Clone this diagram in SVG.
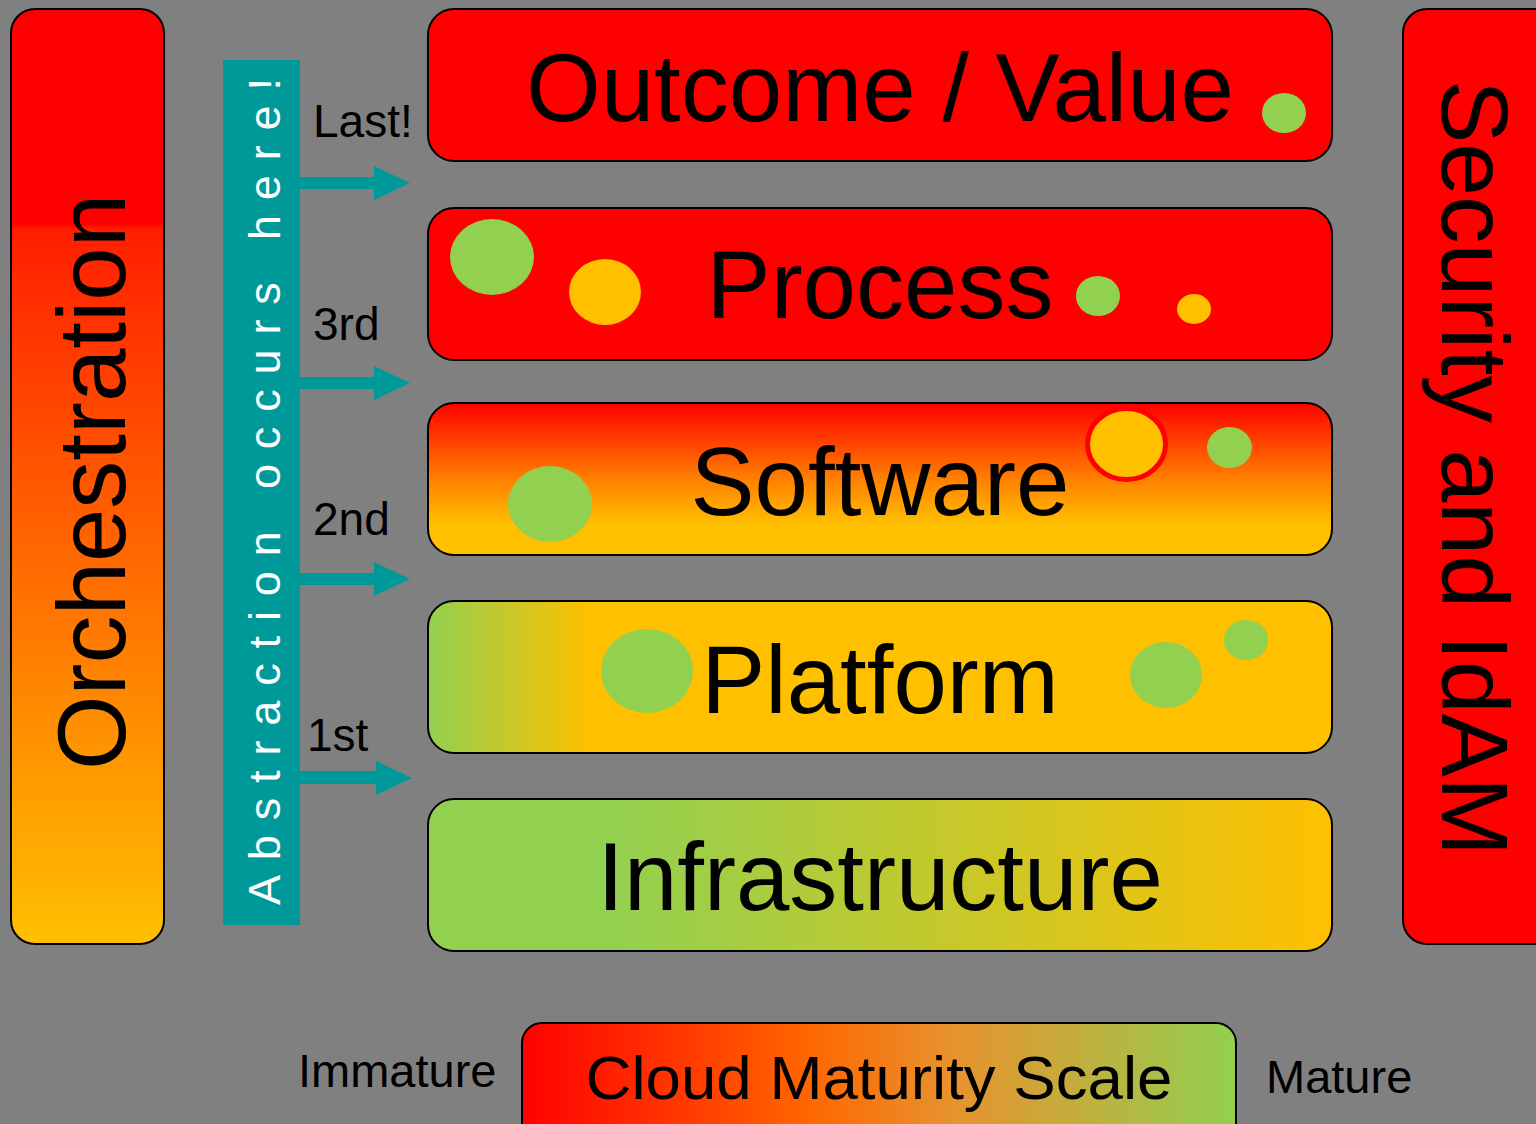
<svg xmlns="http://www.w3.org/2000/svg" width="1536" height="1124" viewBox="0 0 1536 1124">
<defs>
<linearGradient id="gOrch" x1="0" y1="0" x2="0" y2="1">
<stop offset="0" stop-color="#ff0000"/>
<stop offset="0.23" stop-color="#ff0000"/>
<stop offset="0.235" stop-color="#ff1e00"/>
<stop offset="1" stop-color="#ffc000"/>
</linearGradient>
<linearGradient id="gSoft" x1="0" y1="0" x2="0" y2="1">
<stop offset="0" stop-color="#ff0000"/>
<stop offset="0.5" stop-color="#ff8000"/>
<stop offset="0.8" stop-color="#ffc000"/>
<stop offset="1" stop-color="#ffc000"/>
</linearGradient>
<linearGradient id="gPlat" x1="0" y1="0" x2="1" y2="0">
<stop offset="0" stop-color="#92d050"/>
<stop offset="0.18" stop-color="#ffc000"/>
<stop offset="1" stop-color="#ffc000"/>
</linearGradient>
<linearGradient id="gInfra" x1="0" y1="0" x2="1" y2="0">
<stop offset="0" stop-color="#92d050"/>
<stop offset="0.2" stop-color="#92d050"/>
<stop offset="1" stop-color="#ffc000"/>
</linearGradient>
<linearGradient id="gScale" x1="0" y1="0" x2="1" y2="0">
<stop offset="0" stop-color="#ff0000"/>
<stop offset="0.4" stop-color="#ff6600"/>
<stop offset="0.6" stop-color="#e8922e"/>
<stop offset="1" stop-color="#92d050"/>
</linearGradient>
</defs>
<style>
.box{stroke:#000;stroke-width:2}
.big{font-family:"Liberation Sans",Arial,sans-serif;font-size:96px;fill:#000;text-anchor:middle}
.lbl{font-family:"Liberation Sans",Arial,sans-serif;font-size:46px;fill:#000}
.g{fill:#92d050}
.y{fill:#ffc000}
.arrow{fill:#009999}
</style>
<rect x="0" y="0" width="1536" height="1124" fill="#808080"/>

<g id="orchestration">
<rect class="box" x="11" y="9" width="153" height="935" rx="24" fill="url(#gOrch)"/>
<text class="big" transform="translate(125,482) rotate(-90)">Orchestration</text>
</g>

<g id="abstraction">
<rect x="223" y="60" width="77" height="865" fill="#009999"/>
<text transform="translate(280,905) rotate(-90)" font-family="Liberation Sans,Arial,sans-serif" font-size="45" fill="#fff" textLength="827" lengthAdjust="spacing">Abstraction occurs here!</text>
</g>

<g id="security">
<rect class="box" x="1403" y="9" width="160" height="935" rx="24" fill="#ff0000"/>
<text class="big" transform="translate(1442,468) rotate(90)" style="font-size:95px">Security and IdAM</text>
</g>

<g id="outcome">
<rect class="box" x="428" y="9" width="904" height="152" rx="26" fill="#ff0000"/>
<text class="big" x="880" y="121">Outcome / Value</text>
<ellipse class="g" cx="1284" cy="113" rx="22" ry="20"/>
</g>

<g id="process">
<rect class="box" x="428" y="208" width="904" height="152" rx="26" fill="#ff0000"/>
<text class="big" x="880" y="318">Process</text>
<ellipse class="g" cx="492" cy="257" rx="42" ry="38"/>
<ellipse class="y" cx="605" cy="292" rx="36" ry="33"/>
<ellipse class="g" cx="1098" cy="296" rx="22" ry="20"/>
<ellipse class="y" cx="1194" cy="309" rx="17" ry="15"/>
</g>

<g id="software">
<rect class="box" x="428" y="403" width="904" height="152" rx="26" fill="url(#gSoft)"/>
<text class="big" x="880" y="515">Software</text>
<ellipse class="g" cx="550" cy="504" rx="42" ry="38"/>
<ellipse class="y" cx="1126.5" cy="444" rx="39" ry="35.5" stroke="#ff0000" stroke-width="5"/>
<ellipse class="g" cx="1229.5" cy="447.5" rx="22.5" ry="20.5"/>
</g>

<g id="platform">
<rect class="box" x="428" y="601" width="904" height="152" rx="26" fill="url(#gPlat)"/>
<text class="big" x="880" y="713">Platform</text>
<ellipse class="g" cx="647" cy="671" rx="46" ry="42"/>
<ellipse class="g" cx="1166" cy="675" rx="36" ry="33"/>
<ellipse class="g" cx="1246" cy="640" rx="22" ry="20"/>
</g>

<g id="infrastructure">
<rect class="box" x="428" y="799" width="904" height="152" rx="26" fill="url(#gInfra)"/>
<text class="big" x="880" y="910">Infrastructure</text>
</g>

<g id="connectors">
<path class="arrow" d="M300,177 H374 V166 L410,183 L374,200 V189 H300 Z"/>
<path class="arrow" d="M300,377 H374 V366 L410,383 L374,400 V389 H300 Z"/>
<path class="arrow" d="M300,573 H374 V562 L410,579 L374,596 V585 H300 Z"/>
<path class="arrow" d="M300,771 H376 V761 L412,778 L376,795 V784 H300 Z"/>
</g>

<g id="labels">
<text class="lbl" x="313" y="137">Last!</text>
<text class="lbl" x="313" y="340">3rd</text>
<text class="lbl" x="313" y="535">2nd</text>
<text class="lbl" x="307" y="751">1st</text>
</g>

<g id="scale">
<rect class="box" x="522" y="1023" width="714" height="130" rx="20" fill="url(#gScale)"/>
<text class="big" x="879" y="1099" style="font-size:62px" textLength="587" lengthAdjust="spacingAndGlyphs">Cloud Maturity Scale</text>
<text class="lbl" x="298" y="1087" style="font-size:47px">Immature</text>
<text class="lbl" x="1266" y="1093" style="font-size:47px">Mature</text>
</g>
</svg>
